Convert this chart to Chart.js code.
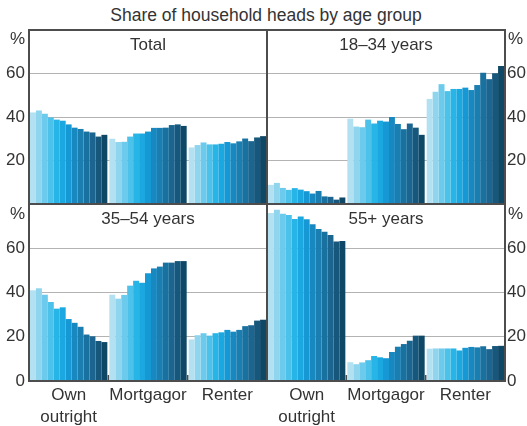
<!DOCTYPE html>
<html>
<head>
<meta charset="utf-8">
<script src="https://cdn.jsdelivr.net/npm/chart.js@4"></script>
<style>
    html, body { margin: 0; padding: 0; background: #fff; }
    #wrap { position: relative; width: 527px; height: 426px; overflow: hidden; }
    #wrap canvas { position: absolute; left: 0; top: 0; }
    #title {
        position: absolute; left: 0; top: 4px; width: 532px; text-align: center;
        font: 17.5px "Liberation Sans", Arial, sans-serif; color: #333; line-height: 22px;
    }
</style>
</head>
<body>
<div id="wrap">
    <div id="title">Share of household heads by age group</div>
    <canvas id="c-total" width="527" height="426"></canvas>
    <canvas id="c-young" width="527" height="426"></canvas>
    <canvas id="c-mid" width="527" height="426"></canvas>
    <canvas id="c-older" width="527" height="426"></canvas>
</div>
<script>
// ── Share of household heads by tenure, one panel per age group ─────────────

var tenureLabels = [['Own', 'outright'], 'Mortgagor', 'Renter'];
var surveyLabels = ['Survey 1', 'Survey 2', 'Survey 3', 'Survey 4', 'Survey 5', 'Survey 6', 'Survey 7',
                    'Survey 8', 'Survey 9', 'Survey 10', 'Survey 11', 'Survey 12', 'Survey 13'];

// Total
var totalOwn       = [42.1, 43.0, 41.5, 39.8, 38.8, 38.3, 36.6, 35.1, 34.5, 33.3, 32.9, 31.0, 31.8];
var totalMortgagor = [30.0, 28.5, 28.6, 31.0, 32.4, 32.4, 33.3, 35.0, 35.0, 35.1, 36.3, 36.6, 35.9];
var totalRenter    = [26.0, 27.1, 28.3, 27.4, 27.4, 27.7, 28.5, 27.9, 28.8, 30.1, 28.9, 30.6, 31.2];
// 18–34 years
var youngOwn       = [8.8, 9.7, 7.4, 6.5, 7.3, 6.6, 5.9, 4.8, 6.0, 3.5, 3.3, 2.0, 3.0];
var youngMortgagor = [39.2, 35.6, 35.3, 38.8, 37.0, 38.3, 37.9, 40.0, 36.8, 34.4, 37.0, 35.1, 31.8];
var youngRenter    = [48.3, 51.6, 55.1, 51.9, 52.9, 52.9, 53.5, 52.4, 54.7, 60.4, 57.4, 60.1, 63.5];
// 35–54 years
var midOwn         = [41.0, 41.9, 39.0, 35.7, 32.7, 33.3, 28.0, 26.3, 24.5, 21.0, 20.2, 18.1, 17.6];
var midMortgagor   = [39.0, 37.2, 38.9, 43.1, 45.3, 44.4, 48.7, 50.9, 51.7, 53.5, 53.5, 54.2, 54.2];
var midRenter      = [18.8, 20.7, 21.6, 20.5, 21.6, 22.0, 23.1, 22.3, 23.1, 24.8, 25.2, 27.3, 27.7];
// 55+ years
var olderOwn       = [75.9, 77.4, 75.6, 75.0, 73.2, 74.3, 73.1, 70.8, 68.7, 67.5, 66.0, 63.0, 63.3];
var olderMortgagor = [8.5, 7.6, 8.4, 9.4, 11.3, 10.7, 10.3, 13.1, 15.5, 16.7, 18.2, 20.5, 20.5];
var olderRenter    = [14.6, 14.7, 14.7, 14.7, 14.7, 13.8, 15.0, 15.4, 15.2, 15.7, 14.4, 15.8, 15.9];

var surveyColours = ['#b3e1f2', '#8fd5ee', '#6ccbec', '#4cc1ea', '#27b4e6', '#1ba8e0', '#1598d4',
                     '#1889c0', '#1a7eb1', '#19719f', '#1c6590', '#16577b', '#0f4866'];

var FONT = '"Liberation Sans", Arial, sans-serif';
var TEXT = '#333333';
var FRAME = '#4d4d4d';

// Frame, panel title, '%' unit and tenure separators
var panelDecor = {
    id: 'panelDecor',
    afterDraw: function (chart) {
        var o = chart.options.plugins.panelDecor;
        var a = chart.chartArea;
        var ctx = chart.ctx;
        var y = chart.scales.y;
        var x = chart.scales.x;
        ctx.save();

        if (o.bottomAxis) {
            ctx.strokeStyle = FRAME;
            ctx.lineWidth = 1.5;
            for (var i = 0; i < x.ticks.length - 1; i++) {
                var px = (x.getPixelForTick(i) + x.getPixelForTick(i + 1)) / 2;
                ctx.beginPath();
                ctx.moveTo(px, a.bottom);
                ctx.lineTo(px, a.bottom - 6);
                ctx.stroke();
            }
        }

        ctx.strokeStyle = FRAME;
        ctx.lineWidth = 2;
        ctx.strokeRect(a.left, a.top, a.right - a.left, a.bottom - a.top);

        ctx.fillStyle = TEXT;
        ctx.font = '17px ' + FONT;
        ctx.textBaseline = 'middle';
        ctx.textAlign = 'center';
        ctx.fillText(o.title, (a.left + a.right) / 2, a.top + 15);

        var py = y.getPixelForValue(75.5);
        if (o.rightAxis) {
            ctx.textAlign = 'left';
            ctx.fillText('%', a.right + 3, py);
        } else {
            ctx.textAlign = 'right';
            ctx.fillText('%', a.left - 4, py);
        }
        ctx.restore();
    }
};

function makePanel(id, title, own, mortgagor, renter, rightAxis, bottomAxis) {
    var datasets = surveyLabels.map(function (label, i) {
        return {
            label: label,
            data: [own[i], mortgagor[i], renter[i]],
            backgroundColor: surveyColours[i],
            borderWidth: 0,
            categoryPercentage: 0.975,
            barPercentage: 1.0
        };
    });

    var padding = {
        left:   rightAxis ? 267 : 0,
        right:  rightAxis ? 0 : 260,
        top:    bottomAxis ? 204 : 30,
        bottom: bottomAxis ? 0 : 222
    };

    /* global Chart */
    new Chart(document.getElementById(id), {
        type: 'bar',
        data: { labels: tenureLabels, datasets: datasets },
        options: {
            responsive: false,
            animation: false,
            layout: { padding: padding },
            plugins: {
                legend: { display: false },
                tooltip: { enabled: false },
                panelDecor: { title: title, rightAxis: rightAxis, bottomAxis: bottomAxis }
            },
            scales: {
                x: {
                    display: bottomAxis,
                    grid: { display: false, drawTicks: false },
                    border: { display: false },
                    ticks: {
                        color: TEXT,
                        font: { family: FONT, size: 17, lineHeight: 1.25 },
                        padding: 4,
                        maxRotation: 0,
                        autoSkip: false
                    },
                    afterFit: function (scale) { scale.height = bottomAxis ? 45 : 0; }
                },
                y: {
                    position: rightAxis ? 'right' : 'left',
                    min: 0,
                    max: 80,
                    grid: { color: '#b3b3b3', lineWidth: 1, drawTicks: false },
                    border: { display: false },
                    ticks: {
                        stepSize: 20,
                        color: TEXT,
                        font: { family: FONT, size: 17 },
                        padding: rightAxis ? 2 : 4,
                        callback: function (v) {
                            if (v === 80) return '';
                            if (v === 0 && !bottomAxis) return '';
                            return v;
                        }
                    },
                    afterFit: function (scale) { scale.width = rightAxis ? 22 : 29; }
                }
            }
        },
        plugins: [panelDecor]
    });
}

makePanel('c-total', 'Total',       totalOwn, totalMortgagor, totalRenter, false, false);
makePanel('c-young', '18–34 years', youngOwn, youngMortgagor, youngRenter, true,  false);
makePanel('c-mid',   '35–54 years', midOwn,   midMortgagor,   midRenter,   false, true);
makePanel('c-older', '55+ years',   olderOwn, olderMortgagor, olderRenter, true,  true);
</script>
</body>
</html>
